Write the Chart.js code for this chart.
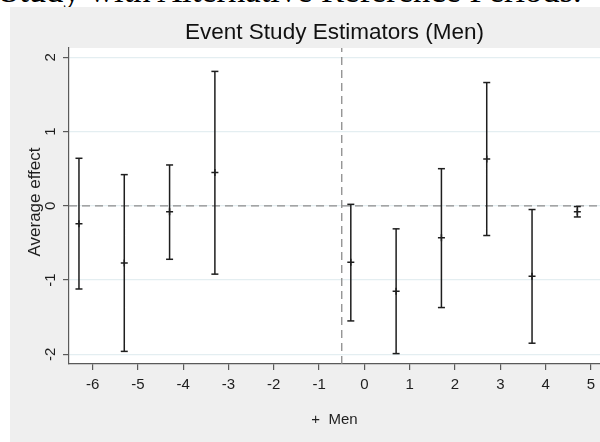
<!DOCTYPE html>
<html>
<head>
<meta charset="utf-8">
<title>Event Study Estimators (Men)</title>
<script src="https://cdn.jsdelivr.net/npm/chart.js@4/dist/chart.umd.min.js"></script>
<style>
  html, body { margin: 0; padding: 0; background: #fff; overflow: hidden; }
  #wrap { position: relative; width: 600px; height: 442px; overflow: hidden; }
  #heading {
    position: absolute; left: 0; top: -27px; margin: 0;
    font: 34.5px/35px "Liberation Serif", "DejaVu Serif", serif; color: #000;
    white-space: nowrap;
  }
  #chart { position: absolute; left: 0; top: 0; }
</style>
</head>
<body>
<div id="wrap">
  <div id="heading">Study with Alternative Reference Periods.</div>
  <canvas id="chart" width="600" height="442"></canvas>
</div>
<script>
//
// Event study chart
//

// Event times (estimates are plotted slightly left of each period)
var periods  = [-6.3, -5.3, -4.3, -3.3, -0.3, 0.7, 1.7, 2.7, 3.7, 4.7];
var estimate = [-0.24, -0.77, -0.08, 0.45, -0.76, -1.15, -0.43, 0.63, -0.95, -0.08];
var ciLow    = [-1.12, -1.96, -0.72, -0.92, -1.55, -1.99, -1.37, -0.40, -1.85, -0.15];
var ciHigh   = [0.64, 0.42, 0.55, 1.81, 0.02, -0.31, 0.50, 1.66, -0.05, -0.01];

var xTicks = [-6, -5, -4, -3, -2, -1, 0, 1, 2, 3, 4, 5];
var yTicks = [-2, -1, 0, 1, 2];

var refY = 0;      // no-effect line
var refX = -0.5;   // treatment onset

var xMin = -6.52, xMax = 5.2;
var yMin = -2.13, yMax = 2.125;

var ink = '#1e1e1e';
var axisColor = '#5a5a5a';
var font = '"Liberation Sans", Arial, Helvetica, sans-serif';

// confidence intervals as one segmented line (null breaks between bars)
var ciPoints = [];
periods.forEach(function(p, i) {
	ciPoints.push({ x: p, y: ciLow[i] });
	ciPoints.push({ x: p, y: ciHigh[i] });
	ciPoints.push({ x: p, y: null });
});

var estPoints = periods.map(function(p, i) {
	return { x: p, y: estimate[i] };
});

// Stata-like grey frame behind the white plot region, plus the text
// pieces Chart.js can't place the way Stata does
var frame = {
	id: 'frame',
	beforeDraw: function(chart) {
		var ctx = chart.ctx, a = chart.chartArea;
		ctx.save();
		ctx.fillStyle = '#efefef';
		ctx.fillRect(10, 7, chart.width - 10, chart.height - 7);
		ctx.fillStyle = '#ffffff';
		ctx.fillRect(a.left, a.top, a.right - a.left, a.bottom - a.top);
		ctx.restore();
	},
	afterDraw: function(chart) {
		var ctx = chart.ctx, y = chart.scales.y, a = chart.chartArea;
		ctx.save();
		ctx.textAlign = 'center';
		ctx.textBaseline = 'middle';

		// title, centred over the plot region
		ctx.font = '22.5px ' + font;
		ctx.fillStyle = '#111';
		ctx.fillText('Event Study Estimators (Men)', (a.left + a.right) / 2, 33);

		// vertical y tick labels
		ctx.fillStyle = ink;
		ctx.font = '15px ' + font;
		yTicks.forEach(function(v) {
			ctx.save();
			ctx.translate(51, y.getPixelForValue(v));
			ctx.rotate(-Math.PI / 2);
			ctx.fillText(String(v), 0, 0);
			ctx.restore();
		});

		// y axis title
		ctx.font = '17px ' + font;
		ctx.translate(35, (a.top + a.bottom) / 2 - 4);
		ctx.rotate(-Math.PI / 2);
		ctx.fillText('Average effect', 0, 0);
		ctx.restore();
	}
};

var chart = new Chart(document.getElementById('chart'), {
	type: 'scatter',
	data: {
		datasets: [{
			type: 'line',
			label: 'CI',
			data: ciPoints,
			borderColor: ink,
			borderWidth: 1.5,
			pointStyle: 'line',
			pointRadius: 3.5,
			pointBorderColor: ink,
			pointBorderWidth: 1.5,
			spanGaps: false,
			fill: false
		}, {
			label: 'Men',
			data: estPoints,
			pointStyle: 'cross',
			pointRadius: 3.5,
			pointBorderColor: ink,
			pointBorderWidth: 1.5,
			pointBackgroundColor: ink
		}, {
			type: 'line',
			label: 'zero',
			data: [{ x: xMin, y: refY }, { x: xMax, y: refY }],
			borderColor: '#8c8c8c',
			borderWidth: 1.3,
			borderDash: [8, 5],
			pointRadius: 0
		}, {
			type: 'line',
			label: 'onset',
			data: [{ x: refX, y: yMin }, { x: refX, y: yMax }],
			borderColor: '#8c8c8c',
			borderWidth: 1.3,
			borderDash: [8, 5],
			pointRadius: 0
		}]
	},
	options: {
		responsive: false,
		animation: false,
		events: [],
		layout: { autoPadding: false, padding: { top: 48, left: 0, right: 0, bottom: 0 } },
		plugins: {
			legend: { display: false },
			tooltip: { enabled: false },
			title: { display: false }
		},
		scales: {
			x: {
				type: 'linear',
				min: xMin,
				max: xMax,
				afterBuildTicks: function(s) {
					s.ticks = xTicks.map(function(v) { return { value: v }; });
				},
				afterFit: function(s) {
					s.height = 78;
					s.paddingLeft = 0;
					s.paddingRight = 0;
				},
				border: { color: axisColor, width: 1.2 },
				grid: { color: 'rgba(0,0,0,0)', tickColor: axisColor, tickLength: 6, lineWidth: 1.2 },
				ticks: {
					color: ink,
					padding: 6,
					maxRotation: 0,
					font: { family: font, size: 15 }
				},
				title: {
					display: true,
					text: '+  Men',
					color: ink,
					font: { family: font, size: 15 },
					padding: { top: 0, bottom: 13 }
				}
			},
			y: {
				type: 'linear',
				min: yMin,
				max: yMax,
				afterBuildTicks: function(s) {
					s.ticks = yTicks.map(function(v) { return { value: v }; });
				},
				afterFit: function(s) {
					s.width = 69;
					s.paddingTop = 0;
					s.paddingBottom = 0;
				},
				border: { color: axisColor, width: 1.2 },
				grid: { color: '#e4eef1', tickColor: axisColor, tickLength: 6, lineWidth: 1.2 },
				ticks: { display: false }
			}
		}
	},
	plugins: [frame]
});
</script>
</body>
</html>
